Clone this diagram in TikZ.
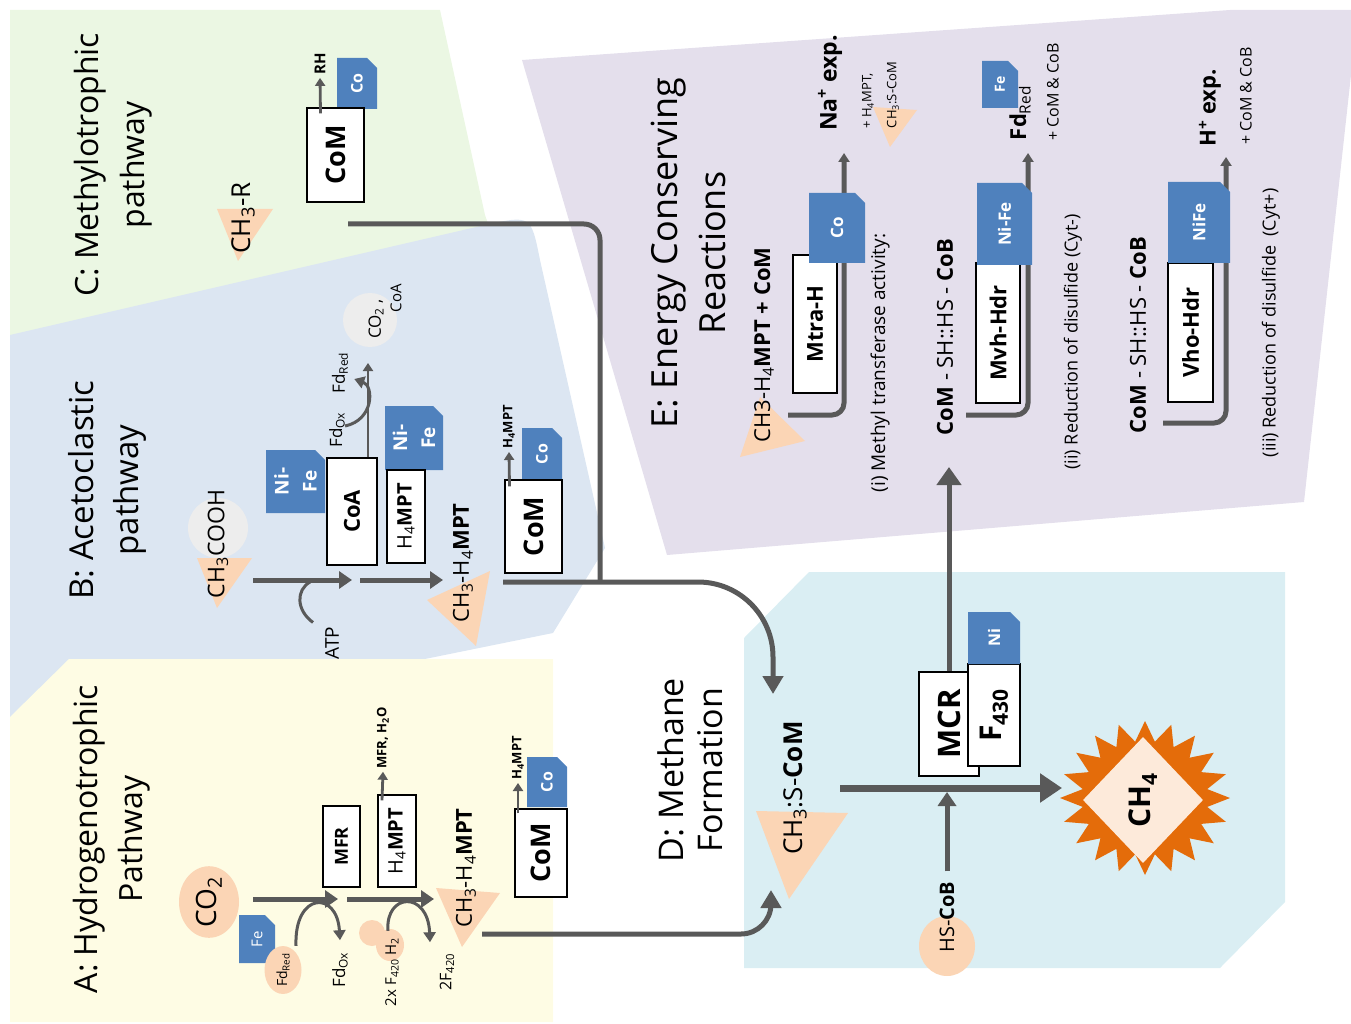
\documentclass[tikz,border=0pt]{standalone}
\usepackage{fontspec}
\setmainfont{Open Sans}
\usetikzlibrary{arrows.meta,shapes.geometric,shapes.misc}

\definecolor{bgC}{HTML}{EBF7E3}
\definecolor{bgB}{HTML}{DCE6F2}
\definecolor{bgA}{HTML}{FEFCE4}
\definecolor{bgD}{HTML}{DAEEF3}
\definecolor{bgE}{HTML}{E4DFEC}
\definecolor{tagblue}{HTML}{4F81BD}
\definecolor{salmon}{HTML}{FBD5B5}
\definecolor{pale}{HTML}{EDEDED}
\definecolor{arrgray}{HTML}{595959}
\definecolor{starorange}{HTML}{E46C0A}
\definecolor{ch4fill}{HTML}{FDEADA}

\tikzset{
  fs/.style={font=\fontsize{#1}{#1}\selectfont},
  bfs/.style={font=\fontsize{#1}{#1}\selectfont\bfseries},
  lbl/.style={rotate=90, inner sep=0pt, align=center},
  enzbox/.style={lbl, draw=black, line width=1.2pt, fill=white},
  metal/.style={lbl, chamfered rectangle, chamfered rectangle corners=south east,
    chamfered rectangle xsep=5pt, chamfered rectangle ysep=5pt,
    fill=tagblue, text=white},
  blob/.style={ellipse, fill=salmon, inner sep=0pt},
  flow/.style={draw=arrgray, line width=5pt, -{Triangle[length=13pt,width=17pt]}},
  bigflow/.style={draw=arrgray, line width=7pt, -{Triangle[length=22pt,width=28pt]}},
  thinflow/.style={draw=arrgray, line width=2.8pt, -{Triangle[length=8pt,width=10pt]}},
  curl/.style={draw=arrgray, line width=3pt, -{Triangle[length=10pt,width=12pt]}},
  conn/.style={draw=arrgray, line width=5pt, rounded corners=12pt, -{Triangle[length=9pt,width=11pt]}},
}

\begin{document}
\begin{tikzpicture}[x=1pt,y=1pt]
\useasboundingbox (0,0) rectangle (1351,-1024);

% backgrounds
\fill[bgC] (10,-10) -- (440,-10) -- (485,-215) -- (515,-300) -- (10,-340) -- cycle;
\fill[bgB] (10,-335) -- (485,-225) .. controls (531,-215) .. (540,-260)
  -- (605,-548) -- (553,-633) -- (420,-660) -- (10,-740) -- cycle;
\fill[bgA] (10,-717) -- (69,-659) -- (553,-659) -- (553,-1022) -- (10,-1022) -- cycle;
\fill[bgD] (744,-638) -- (809,-572) -- (1285,-572) -- (1285,-902) -- (1220,-968) -- (744,-968) -- cycle;
\fill[bgE] (522,-60) -- (1230,-10) -- (1351,-10) -- (1351,-75) -- (1304,-502) -- (667,-555) -- cycle;

% C: methylotrophic
\node[lbl, font=\fontsize{32}{46}\selectfont] (titleC) at (113,-165) {C: Methylotrophic\\pathway};
\fill[salmon] (217,-209) -- (273,-209) -- (238,-261) -- cycle;
\node[lbl, fs=26] (ch3R) at (243,-218) {CH\textsubscript{3}-R};
\node[metal, bfs=16, minimum width=51pt, minimum height=40pt] (coTagC) at (357,-83.5) {Co};
\node[enzbox, bfs=27, minimum width=94pt, minimum height=57pt] (comC) at (335.5,-155) {CoM};
\node[lbl, bfs=15] (rhC) at (320,-64) {RH};
\draw[thinflow] ([xshift=-15pt,yshift=-6pt]comC.east) -- ([yshift=-3pt]rhC.west);
\coordinate (cOut) at (348,-224);
\coordinate (joinBC) at (600,-582);
\draw[draw=arrgray, line width=5pt, rounded corners=16pt] (cOut) -- (cOut -| joinBC) -- (joinBC);

% B: acetoclastic
\node[lbl, font=\fontsize{33}{45}\selectfont] (titleB) at (107,-490) {B: Acetoclastic\\pathway};
\node[circle, fill=pale, minimum size=60pt] (acetBg) at (218,-528) {};
\fill[salmon] (197,-558) -- (252,-558) -- (217,-608) -- cycle;
\node[lbl, fs=23] (acetate) at (218,-544) {CH\textsubscript{3}COOH};
\node[lbl, fs=19] (atp) at (332,-643) {ATP};
\node[metal, font=\fontsize{19}{28}\selectfont\bfseries, minimum width=63pt, minimum height=59pt] (nifeB1) at (295.5,-481.5) {Ni-\\Fe};
\node[enzbox, bfs=22, minimum width=107pt, minimum height=50pt] (coaB) at (352,-511.5) {CoA};
\node[circle, fill=pale, minimum size=54pt] (co2Bg) at (370,-320) {};
\node[lbl, fs=17] (co2lbl) at (376,-319) {CO\textsubscript{2} ,};
\node[lbl, fs=15] (coalbl) at (396,-298) {CoA};
\node[lbl, fs=17] (fdOxB) at (337,-430) {Fd\textsubscript{Ox}};
\node[lbl, fs=17] (fdRedB) at (340,-373) {Fd\textsubscript{Red}};
\node[metal, font=\fontsize{19}{28}\selectfont\bfseries, minimum width=64pt, minimum height=58pt] (nifeB2) at (414,-438) {Ni-\\Fe};
\node[enzbox, fs=20, minimum width=93pt, minimum height=38pt] (h4mptB) at (406,-516.5) {H\textsubscript{4}\textbf{MPT}};
\fill[salmon] (427,-600) -- (490,-571) -- (476,-646) -- cycle;
\node[lbl, fs=22] (mptB) at (463,-563) {CH\textsubscript{3}-H\textsubscript{4}\textbf{MPT}};
\node[metal, bfs=16, minimum width=52pt, minimum height=40pt] (coTagB) at (542,-454) {Co};
\node[enzbox, bfs=27, minimum width=93pt, minimum height=57pt] (comB) at (533.5,-526.5) {CoM};
\node[lbl, bfs=13] (h4B) at (509,-427) {H\textsubscript{4}MPT};
\coordinate (b0) at (253,-580);
\coordinate (b1) at (352,-580);
\coordinate (b2) at (360,-580);
\coordinate (b3) at (443,-580);
\coordinate (co2Tip) at (368,-363);
\coordinate (bOut) at (503,-582);
\coordinate (dTop) at (773,-694);
\draw[flow] (b0) -- (b1);
\draw[flow] (b2) -- (b3);
\draw[draw=arrgray, line width=3pt] ([xshift=-19pt,yshift=4pt]atp.east) .. controls (296,-610) and (296,-590) .. (310,-582);
\draw[curl] ([yshift=4pt]fdOxB.south) .. controls (374,-420) and (374,-386) .. ([xshift=6pt,yshift=-6pt]fdRedB.south);
\draw[thinflow] ([xshift=16pt]coaB.east) -- (co2Tip);
\draw[thinflow] ([xshift=-24pt,yshift=-7pt]comB.east) -- ([yshift=-3pt]h4B.west);
\draw[flow, -{Triangle[length=18pt,width=20pt]}, rounded corners=75pt] (bOut) -- (bOut -| dTop) -- (dTop);

% A: hydrogenotrophic
\node[lbl, font=\fontsize{32}{45}\selectfont] (titleA) at (112,-839) {A: Hydrogenotrophic\\Pathway};
\node[blob, lbl, fs=28, minimum width=66pt, minimum height=60pt] (co2A) at (209,-902) {CO\textsubscript{2}};
\node[metal, fs=15, minimum width=48pt, minimum height=36pt] (feA) at (257,-939) {Fe};
\node[blob, lbl, fs=14, minimum size=37pt] (fdRedA) at (283,-970) {Fd\textsubscript{Red}};
\node[lbl, fs=17] (fdOxA) at (340,-970) {Fd\textsubscript{Ox}};
\node[enzbox, bfs=18, minimum width=81pt, minimum height=37pt] (mfr) at (341.5,-846.5) {MFR};
\node[enzbox, fs=20, minimum width=92pt, minimum height=38pt] (h4mptA) at (397,-841) {H\textsubscript{4}\textbf{MPT}};
\node[lbl, bfs=13] (mfrOut) at (383,-738) {MFR, H\textsubscript{2}O};
\node[blob, minimum size=26pt] (f420a) at (372,-933) {};
\node[blob, minimum width=28pt, minimum height=32pt] (f420b) at (390,-945) {};
\node[lbl, fs=15] (f420lbl) at (392,-972) {2x F\textsubscript{420} H\textsubscript{2}};
\node[lbl, fs=16] (f420out) at (447,-972) {2F\textsubscript{420}};
\fill[salmon] (436,-888) -- (500,-893) -- (462,-947) -- cycle;
\node[lbl, fs=22] (mptA) at (466,-868) {CH\textsubscript{3}-H\textsubscript{4}\textbf{MPT}};
\node[metal, bfs=16, minimum width=50pt, minimum height=40pt] (coTagA) at (547,-782) {Co};
\node[enzbox, bfs=27, minimum width=88pt, minimum height=52pt] (comA) at (541,-853) {CoM};
\node[lbl, bfs=13] (h4A) at (518,-758) {H\textsubscript{4}MPT};
\coordinate (a0) at (253,-899);
\coordinate (a1) at (338,-899);
\coordinate (a2) at (347,-899);
\coordinate (a3) at (434,-899);
\coordinate (aOut) at (482,-934);
\coordinate (dBot) at (771,-890);
\draw[flow] (a0) -- (a1);
\draw[flow] (a2) -- (a3);
\draw[curl] ([xshift=13pt]fdRedA.east) .. controls (294,-892) and (337,-890) .. ([yshift=12pt]fdOxA.east);
\draw[curl] ([xshift=-2pt,yshift=-2pt]f420b.north) .. controls (385,-893) and (428,-890) .. ([xshift=-17pt,yshift=11pt]f420out.east);
\draw[thinflow] ([xshift=-15pt,yshift=-6pt]h4mptA.east) -- ([yshift=-3pt]mfrOut.west);
\draw[thinflow] ([xshift=-23pt,yshift=-5pt]comA.east) -- ([yshift=-3pt]h4A.west);
\draw[flow, -{Triangle[length=18pt,width=20pt]}, rounded corners=30pt] (aOut) -- (aOut -| dBot) -- (dBot);

% D: methane formation
\node[lbl, font=\fontsize{34}{39}\selectfont] (titleD) at (690,-770) {D: Methane\\Formation};
\fill[salmon] (756,-811) -- (848,-813) -- (789,-899) -- cycle;
\node[lbl, fs=26] (ch3scom) at (795,-788) {CH\textsubscript{3}:S-\textbf{CoM}};
\node[blob, lbl, minimum width=60pt, minimum height=56pt] (hscobBg) at (947,-946) {};
\node[lbl, fs=20] (hscob) at (947,-917) {HS-\textbf{CoB}};
\node[enzbox, bfs=31, minimum width=104pt, minimum height=60pt] (mcr) at (949,-724) {MCR};
\node[enzbox, bfs=30, minimum width=102pt, minimum height=52pt] (f430) at (994,-715) {F\textsubscript{430}};
\node[metal, bfs=16, minimum width=52pt, minimum height=52pt] (niD) at (994,-638) {Ni};
\fill[starorange] plot[variable=\k, samples at={0,...,40}]
  ({1145+(74+11*cos(\k*180))*cos(\k*9)}, {-798+(67+10*cos(\k*180))*sin(\k*9)}) -- cycle;
\node[diamond, fill=ch4fill, lbl, bfs=30, minimum width=126pt, minimum height=120pt] (ch4) at (1143,-800) {CH\textsubscript{4}};
\coordinate (d0) at (840,-788);
\coordinate (d1) at (1062,-788);
\coordinate (dJoin) at (947,-792);
\coordinate (eIn) at (949,-467);
\draw[bigflow] (d0) -- (d1);
\draw[flow, -{Triangle[length=14pt,width=18pt]}] ([yshift=10pt]hscob.east) -- (dJoin);
\draw[draw=arrgray, line width=5pt, -{Triangle[length=18pt,width=24pt]}] (mcr.east) -- (eIn);

% E: energy conserving reactions
\node[lbl, font=\fontsize{36}{48}\selectfont] (titleE) at (688,-253) {E: Energy Conserving\\Reactions};
\fill[salmon] (740,-457) -- (805,-441) -- (760,-397) -- cycle;
\node[lbl, fs=22] (mtraIn) at (764,-345) {CH3-H\textsubscript{4}\textbf{MPT + CoM}};
\node[enzbox, bfs=22, minimum width=138pt, minimum height=44pt] (mtra) at (815,-324) {Mtra-H};
\coordinate (e1a) at (788,-415);
\coordinate (e1b) at (844,-153);
\draw[conn] (e1a) -- (e1a -| e1b) -- (e1b);
\node[metal, bfs=17, minimum width=70pt, minimum height=56pt] (coTagE) at (837,-228) {Co};
\node[lbl, bfs=23] (naExp) at (830,-83) {Na\textsuperscript{+} exp.};
\fill[salmon] (873,-107) -- (917,-110) -- (890,-147) -- cycle;
\node[lbl, fs=13] (naOut1) at (868,-101) {+ H\textsubscript{4}MPT,};
\node[lbl, fs=13] (naOut2) at (893,-95) {CH\textsubscript{3}:S-CoM};
\node[lbl, fs=19] (row1) at (880,-363) {(i) Methyl transferase activity:};

\node[lbl, fs=22] (row2) at (945,-337) {\textbf{CoM} - SH::HS - \textbf{CoB}};
\node[enzbox, bfs=22, minimum width=140pt, minimum height=44pt] (mvh) at (998,-333) {Mvh-Hdr};
\coordinate (e2a) at (966,-415);
\coordinate (e2b) at (1028,-153);
\draw[conn] (e2a) -- (e2a -| e2b) -- (e2b);
\node[metal, bfs=17, minimum width=82pt, minimum height=55pt] (nifeE2) at (1004.5,-224) {Ni-Fe};
\node[metal, bfs=14, minimum width=47pt, minimum height=36pt] (feE) at (1000,-84.5) {Fe};
\node[lbl, fs=22] (fdRedE) at (1020,-113) {\textbf{Fd}\textsubscript{Red}};
\node[lbl, fs=16] (cobE2) at (1053,-92) {+ CoM \& CoB};
\node[lbl, fs=18] (row2note) at (1073,-342) {(ii) Reduction of disulfide (Cyt-)};

\node[lbl, fs=22] (row3) at (1138,-335) {\textbf{CoM} - SH::HS - \textbf{CoB}};
\node[enzbox, bfs=22, minimum width=139pt, minimum height=45pt] (vho) at (1190.5,-332.5) {Vho-Hdr};
\coordinate (e3a) at (1163,-423);
\coordinate (e3b) at (1226,-157);
\draw[conn] (e3a) -- (e3a -| e3b) -- (e3b);
\node[metal, bfs=17, minimum width=81pt, minimum height=62pt] (nifeE3) at (1199,-222.5) {NiFe};
\node[lbl, bfs=22] (hExp) at (1210,-108) {H\textsuperscript{+} exp.};
\node[lbl, fs=16] (cobE3) at (1246,-96) {+ CoM \& CoB};
\node[lbl, fs=18] (row3note) at (1271,-323) {(iii) Reduction of disulfide~ (Cyt+)};
\end{tikzpicture}
\end{document}
